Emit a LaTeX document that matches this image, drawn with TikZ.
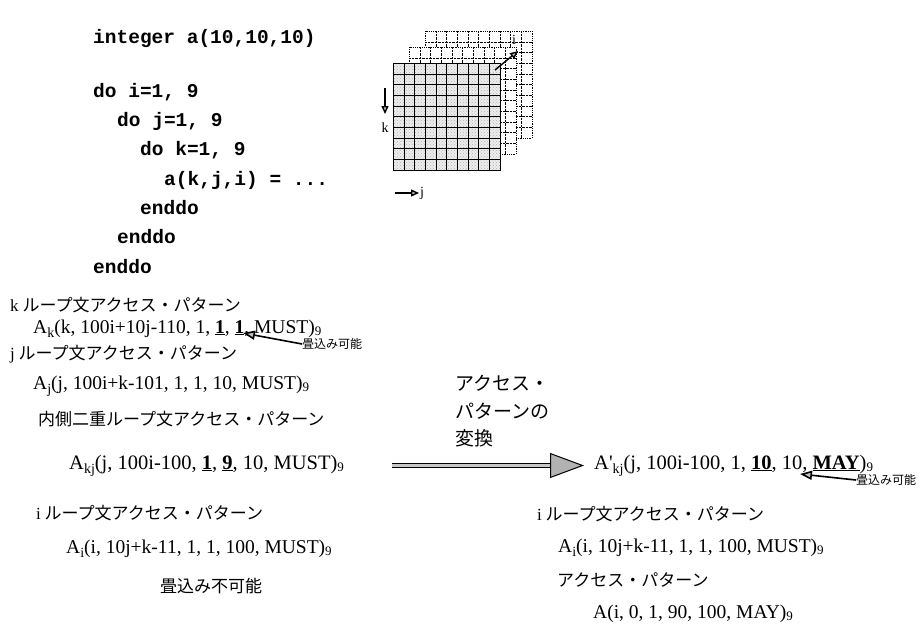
\documentclass[tikz,border=0pt]{standalone}
\usepackage{fontspec}
\setmainfont{Liberation Serif}
\setmonofont{Liberation Mono}
\newfontfamily\jpfont{Noto Sans CJK JP}
\usetikzlibrary{arrows.meta,patterns}

% lowered subscripts as set in the pattern formulas
\newcommand{\lo}[1]{\raisebox{-.45ex}{\fontsize{14}{14}\selectfont #1}}
\newcommand{\nn}[1]{\raisebox{-.3ex}{\fontsize{13}{13}\selectfont #1}}
\newcommand{\ubf}[1]{\underline{\textbf{#1}}}

\tikzset{
  code/.style={anchor=base west,inner sep=0pt,font=\fontsize{19.5}{20}\selectfont\ttfamily\bfseries},
  pat/.style={anchor=base west,inner sep=0pt,font=\fontsize{19.5}{20}\selectfont},
  bigpat/.style={pat,font=\fontsize{20.5}{21}\selectfont},
  ttl/.style={anchor=base west,inner sep=0pt,font=\fontsize{17}{18}\selectfont\jpfont},
  fold/.style={anchor=west,inner sep=0pt,font=\fontsize{12}{13}\selectfont\jpfont},
  foldarrow/.style={line width=1.6pt,-{Triangle[length=12pt,width=9pt,fill=gray!50]}},
  axarrow/.style={line width=1.4pt,-{Triangle[length=8pt,width=7pt,fill=gray!50]}},
  bigarrow/.style={line width=1pt,double=gray!45,double distance=3.5pt,
    -{Triangle[length=34pt,width=25pt,fill=gray!60]},shorten <=48pt,shorten >=10pt},
}

\begin{document}
\begin{tikzpicture}[x=1pt,y=-1pt]
\useasboundingbox (0,0) rectangle (921,638);

% loop nest
\node[code] (decl) at (93,43) {integer a(10,10,10)};
\node[code] (doi) at (93,97) {do i=1, 9};
\node[code] (doj) at (117,126) {do j=1, 9};
\node[code] (dok) at (140,155) {do k=1, 9};
\node[code] (body) at (164,185) {a(k,j,i) = ...};
\node[code] (endk) at (140,214) {enddo};
\node[code] (endj) at (117,243) {enddo};
\node[code] (endi) at (93,273) {enddo};

% array a, three of its i-planes
\foreach \d in {32,16} {
  \filldraw[fill=white,densely dotted,thick] (393+\d,63-\d) rectangle +(107,107);
  \foreach \t in {1,...,9} {
    \draw[densely dotted] (393+\d+10.7*\t,63-\d) -- +(0,107);
    \draw[densely dotted] (393+\d,63-\d+10.7*\t) -- +(107,0);
  }
}
\fill[gray!14] (393,63) rectangle (500,170);
\fill[pattern=crosshatch dots,pattern color=gray!60] (393,63) rectangle (500,170);
\foreach \t in {1,...,9} {
  \draw (393+10.7*\t,63) -- +(0,107);
  \draw (393,63+10.7*\t) -- +(107,0);
}
\draw[thick] (393,63) rectangle (500,170);

\coordinate (kfrom) at (385,88);
\coordinate (kto) at (385,114);
\draw[axarrow] (kfrom) -- (kto);
\node[font=\fontsize{14}{14}\selectfont] (klab) at (385,128) {k};
\coordinate (jfrom) at (395,193);
\coordinate (jto) at (419,193);
\draw[axarrow] (jfrom) -- (jto);
\node[font=\fontsize{14}{14}\selectfont,anchor=west,inner sep=1pt] (jlab) at (jto) {j};
\coordinate (ifrom) at (495,70);
\coordinate (ito) at (518,51);
\draw[axarrow] (ifrom) -- (ito);
\node[font=\fontsize{14}{14}\selectfont] (ilab) at (514,40) {i};

% access patterns of the single loops
\node[ttl] (kttl) at (10,311) {{\rmfamily k} ループ文アクセス・パターン};
\node[pat] (kpat) at (33,333) {A\lo{k}(k, 100i+10j-110, 1, \ubf{1}, \ubf{1}, MUST)\nn{9}};
\node[fold] (fold1) at (302,344) {畳込み可能};
\coordinate (tip1) at (243,333);
\draw[foldarrow] (fold1.west) -- (tip1);

\node[ttl] (jttl) at (10,359) {{\rmfamily j} ループ文アクセス・パターン};
\node[pat] (jpat) at (33,389) {A\lo{j}(j, 100i+k-101, 1, 1, 10, MUST)\nn{9}};

\node[ttl] (kjttl) at (38,425) {内側二重ループ文アクセス・パターン};
\node[bigpat] (kjpat) at (69,469) {A\lo{kj}(j, 100i-100, \ubf{1}, \ubf{9}, 10, MUST)\nn{9}};

\node[ttl] (ittl) at (36,519) {{\rmfamily i} ループ文アクセス・パターン};
\node[pat] (ipat) at (66,553) {A\lo{i}(i, 10j+k-11, 1, 1, 100, MUST)\nn{9}};
\node[ttl] (nofold) at (160,592) {畳込み不可能};

% transformation
\node[anchor=north west,align=left,inner sep=0pt,
  font=\fontsize{19}{27.5}\selectfont\jpfont] (conv) at (455,375) {アクセス・\\パターンの\\変換};
\node[bigpat] (kjppat) at (594,469) {A\textquotesingle\lo{kj}(j, 100i-100, 1, \ubf{10}, 10, \ubf{MAY})\nn{9}};
\draw[bigarrow] (kjpat.east) -- (kjppat.west);
\node[fold] (fold2) at (856,480) {畳込み可能};
\coordinate (tip2) at (800,474);
\draw[foldarrow] (fold2.west) -- (tip2);

\node[ttl] (ittl2) at (537,520) {{\rmfamily i} ループ文アクセス・パターン};
\node[pat] (ipat2) at (558,552) {A\lo{i}(i, 10j+k-11, 1, 1, 100, MUST)\nn{9}};
\node[ttl] (apttl) at (557,586) {アクセス・パターン};
\node[pat] (apat) at (593,618) {A(i, 0, 1, 90, 100, MAY)\nn{9}};

\end{tikzpicture}
\end{document}
